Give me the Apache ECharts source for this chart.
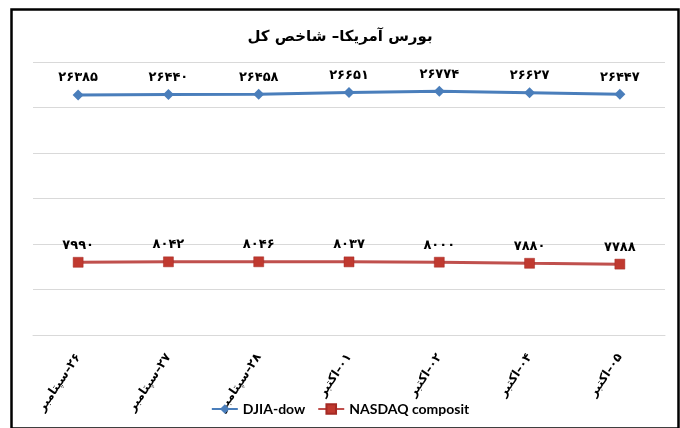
<!DOCTYPE html>
<html>
<head>
<meta charset="utf-8">
<script src="https://cdn.jsdelivr.net/npm/echarts@6/dist/echarts.min.js"></script>
<style>
html,body{margin:0;padding:0;background:#fff;}
#c{width:680px;height:428px;}
</style>
</head>
<body>
<div id="c"></div>
<script>
const titleText = "بورس آمریکا– شاخص کل";
const categories = ["۲۶–سپتامبر", "۲۷–سپتامبر", "۲۸–سپتامبر", "۰۱–اکتبر", "۰۲–اکتبر", "۰۴–اکتبر", "۰۵–اکتبر"];
const djiaName = "DJIA-dow";
const djiaValues = [26385, 26440, 26458, 26651, 26774, 26627, 26447];
const nasdaqName = "NASDAQ composit";
const nasdaqValues = [7990, 8042, 8046, 8037, 8000, 7880, 7788];

const faDigits = "۰۱۲۳۴۵۶۷۸۹";
function toFa(v){ return String(v).replace(/[0-9]/g, d => faDigits[+d]); }

const persianFont = "'DejaVu Sans', 'Noto Sans', sans-serif";
const chart = echarts.init(document.getElementById('c'), null, {renderer:'canvas'});
const labelStyle = {
  show: true, position: 'top', distance: 5,
  formatter: p => toFa(p.value),
  fontFamily: persianFont, fontWeight: 'bold', fontSize: 13, color: '#000'
};
chart.setOption({
  backgroundColor: '#fff',
  animation: false,
  title: {
    text: titleText, left: 'center', top: 25,
    textStyle: {fontFamily: persianFont, fontWeight: 'bold', fontSize: 15, color: '#000'}
  },
  graphic: [{
    type: 'rect', left: 9, top: 7, z: 100,
    shape: {width: 667, height: 419},
    style: {fill: 'none', stroke: '#000', lineWidth: 2.5}
  }],
  legend: {
    bottom: 7, left: 'center',
    itemWidth: 26, itemHeight: 12, itemGap: 12,
    textStyle: {fontFamily: 'Lato, sans-serif', fontWeight: 'bold', fontSize: 14, color: '#000'},
    data: [djiaName, nasdaqName]
  },
  grid: {left: 33, right: 15, top: 62, bottom: 93, containLabel: false},
  xAxis: {
    type: 'category', data: categories, boundaryGap: true,
    axisLine: {lineStyle: {color: '#D9D9D9', width: 1}},
    axisTick: {show: false},
    axisLabel: {
      rotate: 56, margin: 20, interval: 0,
      formatter: v => '\u200F' + v,
      fontFamily: persianFont, fontWeight: 'bold', fontSize: 12, color: '#000'
    }
  },
  yAxis: {
    type: 'value', min: 0, max: 30000, interval: 5000,
    axisLabel: {show: false}, axisLine: {show: false}, axisTick: {show: false},
    splitLine: {lineStyle: {color: '#D9D9D9', width: 1}}
  },
  series: [{
    name: djiaName, type: 'line', data: djiaValues,
    symbol: 'diamond', symbolSize: 11,
    itemStyle: {color: '#4A7EBB'},
    lineStyle: {color: '#4A7EBB', width: 3},
    label: labelStyle
  }, {
    name: nasdaqName, type: 'line', data: nasdaqValues,
    symbol: 'rect', symbolSize: 10,
    itemStyle: {color: '#C0392F', borderColor: '#A52A24', borderWidth: 0.5},
    lineStyle: {color: '#C0504D', width: 3},
    label: labelStyle
  }]
});
</script>
</body>
</html>
